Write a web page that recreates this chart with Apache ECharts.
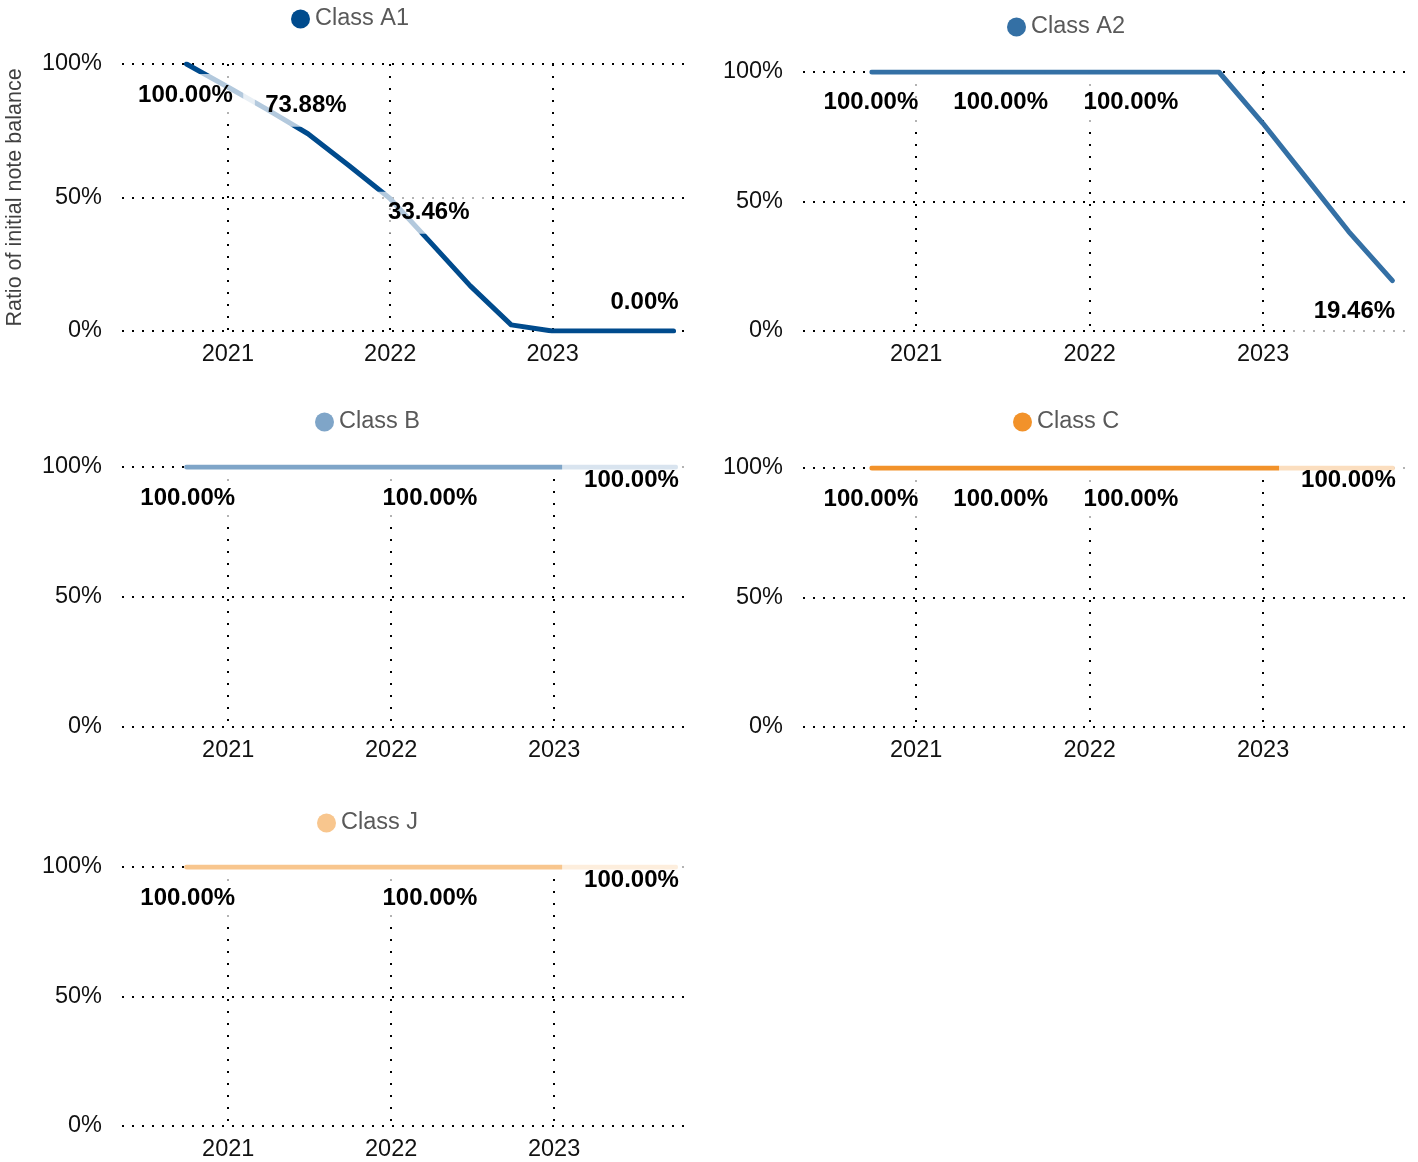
<!DOCTYPE html>
<html>
<head>
<meta charset="utf-8">
<script src="https://cdn.jsdelivr.net/npm/echarts@6/dist/echarts.min.js"></script>
<style>
  html, body { margin: 0; padding: 0; background: #fff; }
  #main { width: 1418px; height: 1162px; }
</style>
</head>
<body>
<div id="main"></div>
<script>
const myChart = echarts.init(document.getElementById('main'))

// quarter-end dates
const dates = ['2020-09-30', '2020-12-31', '2021-03-31', '2021-06-30', '2021-09-30', '2021-12-31', '2022-03-31',
  '2022-06-30', '2022-09-30', '2022-12-31', '2023-03-31', '2023-06-30', '2023-09-30']

// ratio of initial note balance, in %
const classA1 = [100, 91.5, 82.9, 73.88, 62.0, 49.7, 33.46, 16.9, 2.3, 0, 0, 0, 0]
const classA2 = [100, 100, 100, 100, 100, 100, 100, 100, 100, 80.3, 59.5, 38.4, 19.46]
const classB = [100, 100, 100, 100, 100, 100, 100, 100, 100, 100, 100, 100, 100]
const classC = [100, 100, 100, 100, 100, 100, 100, 100, 100, 100, 100, 100, 100]
const classJ = [100, 100, 100, 100, 100, 100, 100, 100, 100, 100, 100, 100, 100]

const yearTicks = ['2021-01-01', '2022-01-01', '2023-01-01']
const font = 'Liberation Sans, Arial, sans-serif'

// layout per panel; labels = [point index, dx, dy]
const panels = [
  { name: 'Class A1', values: classA1, color: '#004b8d',
    grid: { left: 122, top: 64, width: 568, height: 267 }, legend: { left: 286, top: 2 },
    labels: [[0, -1, 31], [3, -2, -28], [6, -1, -29], [12, -29, -29]] },
  { name: 'Class A2', values: classA2, color: '#3470a5',
    grid: { left: 803, top: 72, width: 607, height: 259 }, legend: { left: 1002, top: 10 },
    labels: [[0, -1, 30], [3, -1, 30], [6, -1, 30], [12, -38, 31]] },
  { name: 'Class B', values: classB, color: '#7fa5c8',
    grid: { left: 122, top: 467, width: 570, height: 260 }, legend: { left: 310, top: 405 },
    labels: [[0, 1, 31], [6, -1, 31], [12, -44, 13]] },
  { name: 'Class C', values: classC, color: '#f2922a',
    grid: { left: 803, top: 468, width: 607, height: 259 }, legend: { left: 1008, top: 405 },
    labels: [[0, -1, 31], [3, -1, 31], [6, -1, 31], [12, -44, 12]] },
  { name: 'Class J', values: classJ, color: '#f8c68e',
    grid: { left: 122, top: 867, width: 570, height: 260 }, legend: { left: 312, top: 806 },
    labels: [[0, 1, 31], [6, -1, 31], [12, -44, 13]] },
]

const ts = (d) => Date.parse(d)
const dotted = (gap) => ({ color: '#000', width: 2, type: [2, gap] })
const yearValues = yearTicks.map(ts)

var option = {
  animation: false,
  backgroundColor: '#fff',
  textStyle: { fontFamily: font },
  grid: panels.map((p) => Object.assign({ containLabel: false }, p.grid)),
  legend: panels.map((p) => ({
    data: [p.name],
    left: p.legend.left,
    top: p.legend.top,
    icon: 'circle',
    itemWidth: 19,
    itemHeight: 19,
    selectedMode: false,
    textStyle: { fontSize: 23.5, color: '#595959', fontFamily: font },
  })),
  xAxis: panels.map((p, i) => ({
    type: 'value',
    gridIndex: i,
    min: ts('2020-05-08'),
    max: ts('2023-11-06'),
    axisLine: { show: false },
    axisTick: { show: false, customValues: yearValues },
    axisLabel: {
      customValues: yearValues,
      formatter: (v) => String(new Date(v).getUTCFullYear()),
      fontSize: 23.5,
      color: '#111',
      margin: 12,
      fontFamily: font,
    },
    splitLine: { show: true, lineStyle: dotted(10) },
  })),
  yAxis: panels.map((p, i) => ({
    type: 'value',
    gridIndex: i,
    min: 0,
    max: 100,
    interval: 50,
    name: i === 0 ? 'Ratio of initial note balance' : '',
    nameLocation: 'middle',
    nameRotate: 90,
    nameGap: 96,
    nameTextStyle: { fontSize: 21.5, color: '#404040', fontFamily: font },
    axisLine: { show: false },
    axisTick: { show: false },
    axisLabel: { formatter: '{value}%', fontSize: 23.5, color: '#111', margin: 20, fontFamily: font },
    splitLine: { show: true, lineStyle: dotted(8) },
  })),
  series: panels.map((p, i) => {
    const spec = {}
    p.labels.forEach(([k, dx, dy]) => { spec[k] = [dx, dy] })
    return {
      name: p.name,
      type: 'line',
      xAxisIndex: i,
      yAxisIndex: i,
      symbol: 'circle',
      symbolSize: 1,
      showSymbol: true,
      showAllSymbol: true,
      color: p.color,
      lineStyle: { width: 5, color: p.color, cap: 'round', join: 'round' },
      itemStyle: { color: p.color },
      emphasis: { disabled: true },
      label: {
        show: false,
        position: 'inside',
        formatter: (d) => d.value[1].toFixed(2) + '%',
        fontSize: 24,
        fontWeight: 'bold',
        fontFamily: font,
        color: '#000',
        backgroundColor: 'rgba(255,255,255,0.7)',
        padding: [9, 22],
      },
      data: dates.map((d, k) => {
        const item = { value: [ts(d), p.values[k]] }
        if (spec[k]) item.label = { show: true, offset: spec[k] }
        return item
      }),
    }
  }),
}

myChart.setOption(option)
</script>
</body>
</html>
